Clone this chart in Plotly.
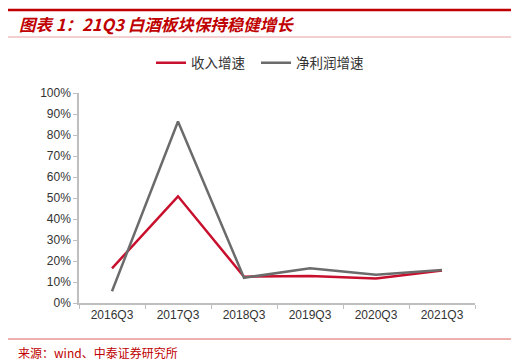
import plotly.graph_objects as go

categories = ["2016Q3", "2017Q3", "2018Q3", "2019Q3", "2020Q3", "2021Q3"]
revenue_growth = [0.165, 0.508, 0.125, 0.129, 0.117, 0.155]
profit_growth = [0.056, 0.864, 0.120, 0.165, 0.134, 0.157]
series_names = ["收入增速", "净利润增速"]

OFF = 8  # default page body margin
W, H = 528 - OFF, 364 - OFF
L, R, T, B = 79 - OFF, 475 - OFF, 93 - OFF, 303 - OFF

def px(x):
    return (x - OFF - L) / (R - L)

def py(y):
    return (B - (y - OFF)) / (B - T)

fig = go.Figure()
fig.add_trace(go.Scatter(x=categories, y=revenue_growth, mode="lines", name=series_names[0],
                         line=dict(color="#C8102E", width=2.5), legend="legend"))
fig.add_trace(go.Scatter(x=categories, y=profit_growth, mode="lines", name=series_names[1],
                         line=dict(color="#6B6B6B", width=2.5), legend="legend2"))

leg_font = dict(family="Noto Sans CJK SC", size=13.5, color="#333333")
fig.update_layout(
    width=W, height=H,
    margin=dict(l=L, r=W - R, t=T, b=H - B),
    paper_bgcolor="white", plot_bgcolor="white",
    showlegend=True,
    legend=dict(orientation="h", x=px(151), xanchor="left", y=py(63), yanchor="middle",
                font=leg_font, itemwidth=30),
    legend2=dict(orientation="h", x=px(256), xanchor="left", y=py(63), yanchor="middle",
                 font=leg_font, itemwidth=30),
    font=dict(family="Liberation Sans, Arial", size=12, color="#333333"),
)
fig.update_xaxes(type="category", showgrid=False, showline=True, linecolor="#BFBFBF", linewidth=1.5,
                 ticks="outside", tickson="boundaries", ticklen=4, tickcolor="#BFBFBF",
                 tickfont=dict(family="Liberation Sans, Arial", size=12, color="#333333"),
                 range=[-0.5, 5.5])
fig.update_yaxes(range=[0, 1], dtick=0.1, tickformat=".0%", showgrid=False, showline=True,
                 linecolor="#BFBFBF", linewidth=1.5, ticks="outside", ticklen=4, tickcolor="#BFBFBF",
                 tickfont=dict(family="Liberation Sans, Arial", size=12, color="#333333"),
                 zeroline=False)

shapes = [
    dict(type="line", xref="paper", yref="paper", x0=px(8), x1=px(511), y0=py(10), y1=py(10),
         line=dict(color="#C00000", width=2.5)),
    dict(type="line", xref="paper", yref="paper", x0=px(8), x1=px(511), y0=py(37), y1=py(37),
         line=dict(color="#E8A0A0", width=1)),
    dict(type="line", xref="paper", yref="paper", x0=px(8), x1=px(511), y0=py(339), y1=py(339),
         line=dict(color="#E06060", width=1)),
]
fig.update_layout(shapes=shapes)

fig.add_annotation(xref="paper", yref="paper", x=px(17), y=py(24), xanchor="left", yanchor="middle",
                   text="<b><i>图表 1：21Q3 白酒板块保持稳健增长</i></b>", showarrow=False,
                   font=dict(family="Noto Sans CJK SC", size=16.5, color="#C00000"))
fig.add_annotation(xref="paper", yref="paper", x=px(16), y=py(352), xanchor="left", yanchor="middle",
                   text="来源：wind、中泰证券研究所", showarrow=False,
                   font=dict(family="Noto Sans CJK SC", size=12, color="#C00000"))

fig.write_html("out.html")
